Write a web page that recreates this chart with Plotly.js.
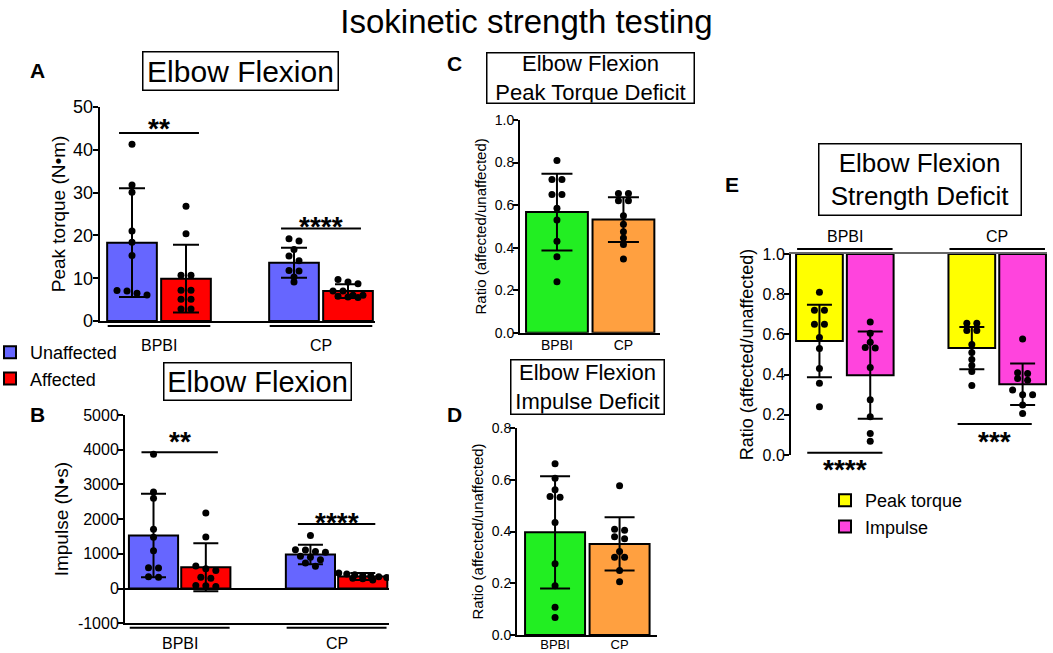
<!DOCTYPE html>
<html><head><meta charset="utf-8">
<script src="https://cdn.plot.ly/plotly-3.0.1.min.js"></script>
<style>html,body{margin:0;padding:0;background:#fff}#chart{width:1053px;height:653px}</style>
</head><body><div id="chart"></div>
<script>
// ---------------- data ----------------
const groups = ['BPBI', 'CP'];
const sides = ['Unaffected', 'Affected'];
const measures = ['Peak torque', 'Impulse'];

// Panel A: peak torque (N·m) – bar means and SD
const torqueMeanUnaff = [18.3, 13.6];
const torqueSdUnaff = [12.7, 3.5];
const torqueMeanAff = [9.9, 7.0];
const torqueSdAff = [7.9, 1.6];
const torqueBPBIUnaff = [41.3, 31.8, 30.1, 21.0, 18.4, 15.3, 7.1, 7.0, 6.5, 6.1];
const torqueBPBIAff = [26.8, 20.4, 10.7, 10.7, 7.2, 7.2, 5.1, 5.1, 2.8, 2.8];
const torqueCPUnaff = [19.2, 18.7, 16.7, 15.2, 14.1, 11.8, 11.7, 10.3, 9.1];
const torqueCPAff = [9.7, 9.1, 8.7, 7.0, 7.0, 6.0, 6.0, 5.8, 5.6, 5.5];
const torqueTicks = [0, 10, 20, 30, 40, 50];

// Panel B: impulse (N·s)
const impulseMeanUnaff = [1530, 980];
const impulseSdUnaff = [1205, 280];
const impulseMeanAff = [615, 350];
const impulseSdAff = [690, 100];
const impulseBPBIUnaff = [3870, 2780, 2600, 1710, 1480, 1090, 600, 590, 340, 330];
const impulseBPBIAff = [2175, 1485, 650, 570, 520, 330, 300, 90, 80, 60];
const impulseCPUnaff = [1530, 1120, 1110, 1070, 1050, 930, 900, 830, 740, 640];
const impulseCPAff = [450, 420, 400, 380, 360, 340, 320, 300, 280, 250];
const impulseTicks = [-1000, 0, 1000, 2000, 3000, 4000, 5000];

// Panel C: peak torque deficit ratio (affected/unaffected)
const ratioTorqueMean = [0.567, 0.532];
const ratioTorqueSd = [0.180, 0.105];
const ratioTorqueBPBI = [0.81, 0.72, 0.72, 0.65, 0.65, 0.585, 0.53, 0.43, 0.357, 0.24];
const ratioTorqueCP = [0.655, 0.655, 0.62, 0.62, 0.55, 0.51, 0.475, 0.445, 0.415, 0.346];

// Panel D: impulse deficit ratio
const ratioImpulseMean = [0.397, 0.352];
const ratioImpulseSd = [0.217, 0.103];
const ratioImpulseBPBI = [0.662, 0.606, 0.561, 0.535, 0.532, 0.435, 0.275, 0.19, 0.107, 0.068];
const ratioImpulseCP = [0.577, 0.409, 0.405, 0.38, 0.372, 0.323, 0.30, 0.30, 0.249, 0.206];
const ratioTicks = [0, 0.2, 0.4, 0.6, 0.8, 1.0];

// significance labels
const sigAB = ['**', '****'];
const sigE = ['****', '***'];

// ---------------- layout helpers ----------------
const F = 'Arial, "Liberation Sans", sans-serif';
const W = 1053, H = 653;
const px = v => v / W, py = v => 1 - v / H;

const C_UNAFF = '#6666FF', C_AFF = '#FF0000', C_GREEN = '#22EE22', C_ORANGE = '#FFA040',
      C_YELLOW = '#FFFF00', C_MAGENTA = '#FF44DD';

// panel geometry in pixels
const G = {
  A: {ax: '', x0: 99.6, x1: 375, xr: [-0.6, 4.5], y0: 321, y1: 107, yr: [0, 50]},
  B: {ax: '2', x0: 125, x1: 388.9, xr: [-0.545, 4.5], y0: 623.3, y1: 415, yr: [-1000, 5000]},
  C: {ax: '3', x0: 520, x1: 660, xr: [-0.556, 1.55], y0: 332.7, y1: 120, yr: [0, 1]},
  D: {ax: '4', x0: 517, x1: 657, xr: [-0.59, 1.58], y0: 635, y1: 428, yr: [0, 0.8]},
  E: {ax: '5', x0: 791, x1: 1047, xr: [-0.56, 4.48], y0: 455, y1: 254, yr: [0, 1]}
};
Object.values(G).forEach(g => {
  g.ppx = (g.x1 - g.x0) / (g.xr[1] - g.xr[0]);
  g.ppy = (g.y0 - g.y1) / (g.yr[1] - g.yr[0]);
  g.xa = 'x' + g.ax; g.ya = 'y' + g.ax;
});

function swarm(vals, center, g, maxRowPx) {
  const order = vals.map((v, i) => i).sort((a, b) => vals[b] - vals[a]);
  const rows = [];
  order.forEach(i => {
    const r = rows[rows.length - 1];
    if (r && (vals[r[0]] - vals[i]) * g.ppy < 5) r.push(i); else rows.push([i]);
  });
  const xs = new Array(vals.length);
  rows.forEach(r => {
    const n = r.length;
    const sp = n > 1 ? Math.min(10, maxRowPx / (n - 1)) : 0;
    r.forEach((i, k) => { xs[i] = center + (k - (n - 1) / 2) * sp / g.ppx; });
  });
  return xs;
}

const traces = [];
function bars(g, xs, ys, color, name, width, extra) {
  traces.push(Object.assign({
    type: 'bar', xaxis: g.xa, yaxis: g.ya, x: xs, y: ys, width: width, name: name,
    marker: {color: color, line: {color: 'black', width: 2}}, showlegend: false, hoverinfo: 'skip'
  }, extra || {}));
}
function errs(g, xs, means, sds, capw) {
  traces.push({
    type: 'scatter', mode: 'markers', xaxis: g.xa, yaxis: g.ya, x: xs, y: means,
    marker: {size: 1, color: 'rgba(0,0,0,0)'}, showlegend: false, hoverinfo: 'skip',
    error_y: {type: 'data', array: sds, symmetric: true, color: 'black', thickness: 2, width: capw}
  });
}
function dots(g, center, vals, maxRowPx) {
  traces.push({
    type: 'scatter', mode: 'markers', xaxis: g.xa, yaxis: g.ya,
    x: swarm(vals, center, g, maxRowPx), y: vals,
    marker: {size: 7, color: 'black'}, showlegend: false, hoverinfo: 'skip'
  });
}

// ---- Panel A ----
const posU = groups.map((_, i) => i * 3), posA = groups.map((_, i) => i * 3 + 1);
bars(G.A, posU, torqueMeanUnaff, C_UNAFF, sides[0], 0.92, {showlegend: true, legend: 'legend'});
bars(G.A, posA, torqueMeanAff, C_AFF, sides[1], 0.92, {showlegend: true, legend: 'legend'});
errs(G.A, posU, torqueMeanUnaff, torqueSdUnaff, 13);
errs(G.A, posA, torqueMeanAff, torqueSdAff, 13);
dots(G.A, posU[0], torqueBPBIUnaff, 44); dots(G.A, posA[0], torqueBPBIAff, 44);
dots(G.A, posU[1], torqueCPUnaff, 44); dots(G.A, posA[1], torqueCPAff, 44);

// ---- Panel B ----
bars(G.B, posU, impulseMeanUnaff, C_UNAFF, sides[0], 0.94);
bars(G.B, posA, impulseMeanAff, C_AFF, sides[1], 0.94);
errs(G.B, posU, impulseMeanUnaff, impulseSdUnaff, 12.5);
errs(G.B, posA, impulseMeanAff, impulseSdAff, 12.5);
dots(G.B, posU[0], impulseBPBIUnaff, 44); dots(G.B, posA[0], impulseBPBIAff, 44);
dots(G.B, posU[1], impulseCPUnaff, 44); dots(G.B, posA[1], impulseCPAff, 48);

// ---- Panel C ----
const posCD = groups.map((_, i) => i);
traces.push({type: 'bar', xaxis: G.C.xa, yaxis: G.C.ya, x: posCD, y: ratioTorqueMean, width: 0.93,
  marker: {color: [C_GREEN, C_ORANGE], line: {color: 'black', width: 2}}, showlegend: false, hoverinfo: 'skip'});
errs(G.C, posCD, ratioTorqueMean, ratioTorqueSd, 15.5);
dots(G.C, 0, ratioTorqueBPBI, 50); dots(G.C, 1, ratioTorqueCP, 50);

// ---- Panel D ----
traces.push({type: 'bar', xaxis: G.D.xa, yaxis: G.D.ya, x: posCD, y: ratioImpulseMean, width: 0.93,
  marker: {color: [C_GREEN, C_ORANGE], line: {color: 'black', width: 2}}, showlegend: false, hoverinfo: 'skip'});
errs(G.D, posCD, ratioImpulseMean, ratioImpulseSd, 15);
dots(G.D, 0, ratioImpulseBPBI, 50); dots(G.D, 1, ratioImpulseCP, 50);

// ---- Panel E (bars hang from 1.0) ----
const posT = groups.map((_, i) => i * 3), posI = groups.map((_, i) => i * 3 + 1);
bars(G.E, posT, ratioTorqueMean.map(v => v - 1), C_YELLOW, measures[0], 0.92,
  {base: [1, 1], showlegend: true, legend: 'legend2'});
bars(G.E, posI, ratioImpulseMean.map(v => v - 1), C_MAGENTA, measures[1], 0.92,
  {base: [1, 1], showlegend: true, legend: 'legend2'});
errs(G.E, posT, ratioTorqueMean, ratioTorqueSd, 12.5);
errs(G.E, posI, ratioImpulseMean, ratioImpulseSd, 12.5);
dots(G.E, posT[0], ratioTorqueBPBI, 40); dots(G.E, posI[0], ratioImpulseBPBI, 40);
dots(G.E, posT[1], ratioTorqueCP, 40); dots(G.E, posI[1], ratioImpulseCP, 40);

// ---------------- axes ----------------
const layout = {
  width: W, height: H, margin: {l: 0, r: 0, t: 0, b: 0, autoexpand: false},
  paper_bgcolor: 'white', plot_bgcolor: 'rgba(0,0,0,0)',
  font: {family: F, color: 'black'},
  barmode: 'overlay',
  title: {text: 'Isokinetic strength testing', x: 0.5, xanchor: 'center', y: py(21), yanchor: 'middle',
    font: {family: F, size: 33, color: 'black'}},
  legend: {x: px(-10), xanchor: 'left', y: py(334), yanchor: 'top', font: {family: F, size: 18},
    bgcolor: 'rgba(0,0,0,0)', tracegroupgap: 0, itemclick: false, itemdoubleclick: false},
  legend2: {x: px(825), xanchor: 'left', y: py(482), yanchor: 'top', font: {family: F, size: 18},
    bgcolor: 'rgba(0,0,0,0)', tracegroupgap: 0, itemclick: false, itemdoubleclick: false},
  shapes: [], annotations: []
};

function yAxis(g, size, titleText, titleSize, standoff, extra) {
  return Object.assign({
    domain: [py(g.y0), py(g.y1)], range: g.yr, anchor: g.xa,
    showline: true, linecolor: 'black', linewidth: 2, showgrid: false, zeroline: false,
    ticks: 'outside', ticklen: 5, tickwidth: 2, tickcolor: 'black', ticklabelstandoff: -4,
    tickfont: {family: F, size: size, color: 'black'}, fixedrange: true,
    title: {text: titleText, font: {family: F, size: titleSize, color: 'black'}, standoff: standoff}
  }, extra || {});
}
function xAxis(g, extra) {
  return Object.assign({
    domain: [px(g.x0), px(g.x1)], range: g.xr, anchor: g.ya,
    showline: true, linecolor: 'black', linewidth: 2, showgrid: false, zeroline: false,
    ticks: '', showticklabels: false, fixedrange: true
  }, extra || {});
}
layout.xaxis = xAxis(G.A);
layout.yaxis = yAxis(G.A, 18, 'Peak torque (N•m)', 19, 2, {tickvals: torqueTicks});
layout.xaxis2 = xAxis(G.B);
layout.yaxis2 = yAxis(G.B, 16, 'Impulse (N•s)', 19, 4,
  {tickvals: impulseTicks, ticktext: impulseTicks.map(String),
   zeroline: true, zerolinecolor: 'black', zerolinewidth: 2});
layout.xaxis3 = xAxis(G.C, {showticklabels: true, tickvals: posCD, ticktext: groups,
  ticklabelstandoff: -2, tickfont: {family: F, size: 14, color: 'black'}});
layout.yaxis3 = yAxis(G.C, 14, 'Ratio (affected/unaffected)', 15, 4,
  {tickvals: ratioTicks, tickformat: '.1f'});
layout.xaxis4 = xAxis(G.D, {showticklabels: true, tickvals: posCD, ticktext: groups,
  ticklabelstandoff: -4, tickfont: {family: F, size: 13, color: 'black'}});
layout.yaxis4 = yAxis(G.D, 14, 'Ratio (affected/unaffected)', 15, 4,
  {tickvals: ratioTicks.slice(0, 5), tickformat: '.1f'});
layout.xaxis5 = xAxis(G.E, {side: 'top', linecolor: '#666', layer: 'below traces'});
layout.yaxis5 = yAxis(G.E, 16, 'Ratio (affected/unaffected)', 18, 4,
  {tickvals: ratioTicks, tickformat: '.1f'});

// ---------------- annotations & shapes ----------------
const ann = layout.annotations, shp = layout.shapes;
function box(text, cx, cy, w, h, size) {
  ann.push({xref: 'paper', yref: 'paper', x: px(cx), y: py(cy), xanchor: 'center', yanchor: 'middle',
    text: text, showarrow: false, font: {family: F, size: size, color: 'black'},
    bordercolor: 'black', borderwidth: 1.5, borderpad: 0, width: w - 3, height: h - 3,
    align: 'center', valign: 'middle'});
}
box('Elbow Flexion', 240.5, 71, 197, 40, 30);
box('Elbow Flexion', 257.5, 381.5, 189, 39, 29);
box('Elbow Flexion<br>Peak Torque Deficit', 590.5, 78, 209, 52, 22);
box('Elbow Flexion<br>Impulse Deficit', 587.5, 387, 155, 56, 22);
box('Elbow Flexion<br>Strength Deficit', 920, 179.5, 204, 73, 26);

function letter(t, x, y) {
  ann.push({xref: 'paper', yref: 'paper', x: px(x), y: py(y), xanchor: 'center', yanchor: 'middle',
    text: '<b>' + t + '</b>', showarrow: false, font: {family: F, size: 21, color: 'black'}});
}
letter('A', 37, 71); letter('B', 37, 415); letter('C', 454, 63); letter('D', 454, 415); letter('E', 732, 185);

function groupLabels(g, lineY, labelY, half) {
  groups.forEach((name, i) => {
    const c = i * 3 + 0.5;
    shp.push({type: 'line', xref: g.xa, yref: 'paper', x0: c - half, x1: c + half,
      y0: py(lineY), y1: py(lineY), line: {color: 'black', width: 2}});
    ann.push({xref: g.xa, yref: 'paper', x: c, y: py(labelY), xanchor: 'center', yanchor: 'middle',
      text: name, showarrow: false, font: {family: F, size: 16, color: 'black'}});
  });
}
groupLabels(G.A, 326, 345, 0.95);
groupLabels(G.B, 627.7, 643, 0.955);
groupLabels(G.E, 249, 236, 0.94);

function sig(g, text, c, half, lineVal, starPx) {
  shp.push({type: 'line', xref: g.xa, yref: g.ya, x0: c - half, x1: c + half,
    y0: lineVal, y1: lineVal, line: {color: 'black', width: 2}});
  ann.push({xref: g.xa, yref: 'paper', x: c, y: py(starPx), xanchor: 'center', yanchor: 'middle',
    yshift: -6, text: '<b>' + text + '</b>', showarrow: false, font: {family: F, size: 28, color: 'black'}});
}
sig(G.A, sigAB[0], 0.5, 0.74, 43.9, 123);
sig(G.A, sigAB[1], 3.5, 0.74, 21.6, 220);
sig(G.B, sigAB[0], 0.5, 0.73, 3928, 435);
sig(G.B, sigAB[1], 3.5, 0.74, 1858, 516);
sig(G.E, sigE[0], 0.5, 0.74, 0.011, 463);
sig(G.E, sigE[1], 3.45, 0.73, 0.154, 435);

Plotly.newPlot('chart', traces, layout, {staticPlot: true, displayModeBar: false});
</script></body></html>
